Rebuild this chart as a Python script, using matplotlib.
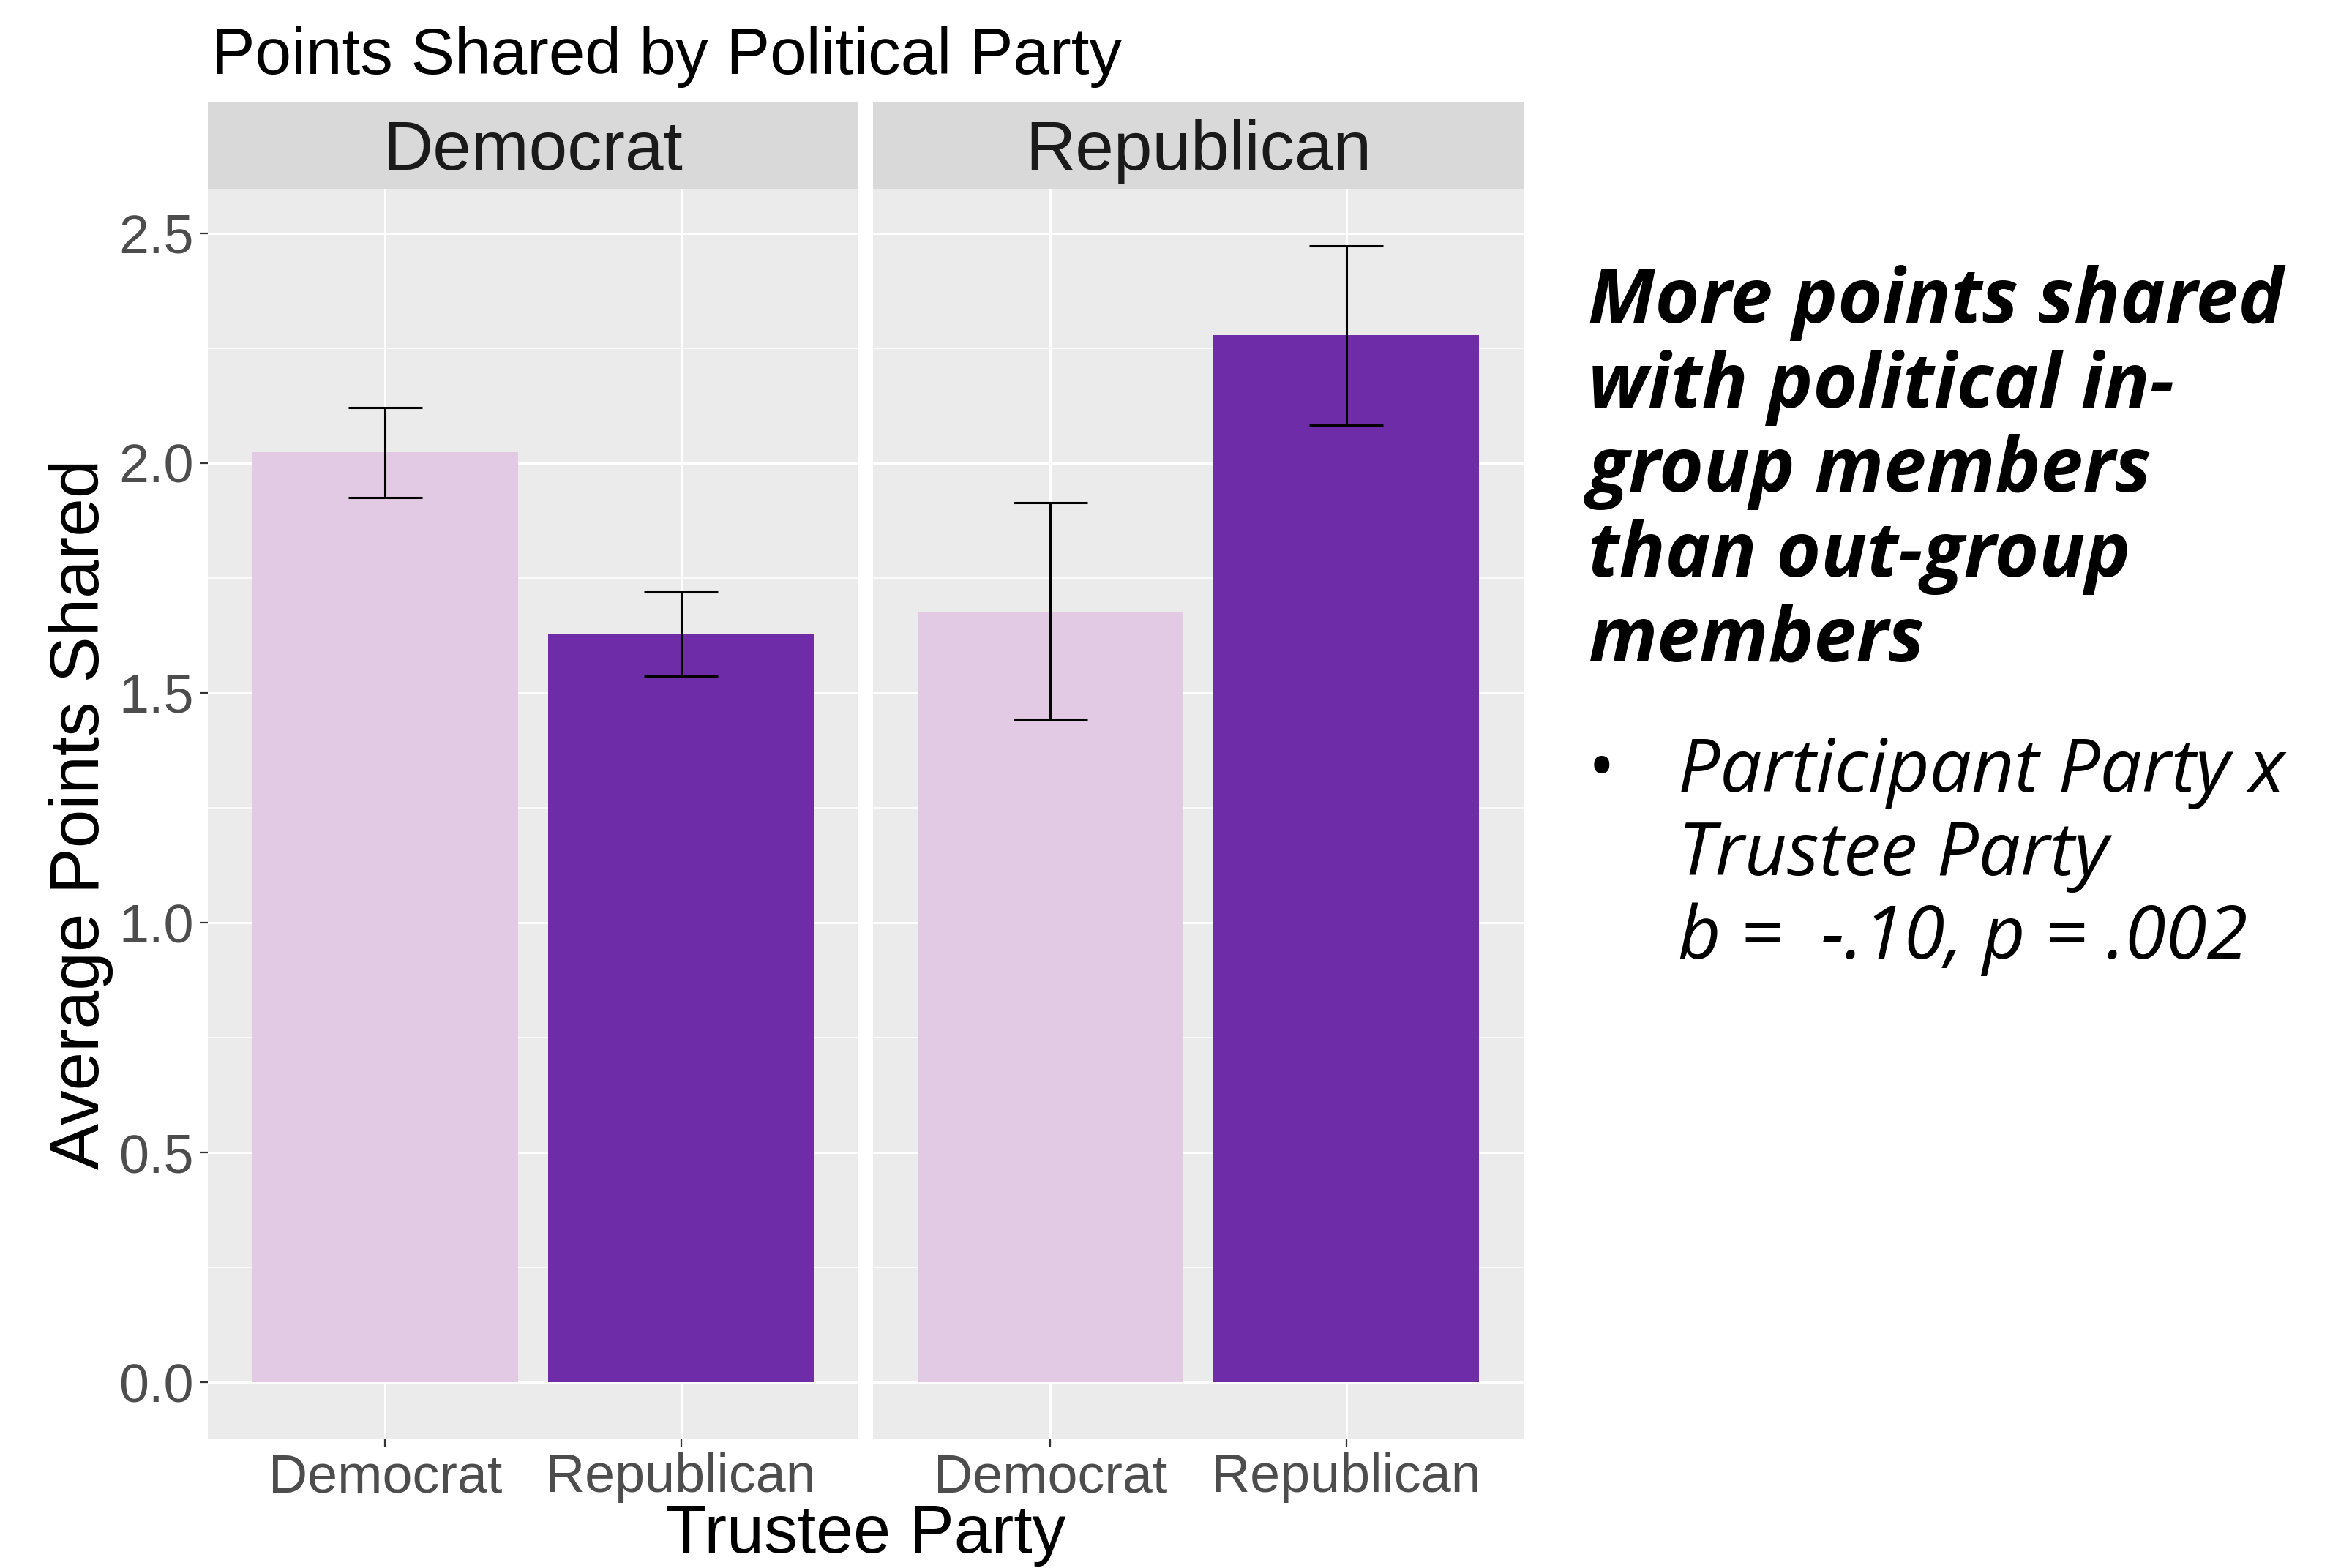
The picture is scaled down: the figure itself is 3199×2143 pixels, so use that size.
import matplotlib
matplotlib.use("Agg")
import matplotlib.pyplot as plt
import numpy as np

# ---------------- data ----------------
participant_party = ["Democrat", "Republican"]          # facet panels
trustee_party = ["Democrat", "Republican"]              # x categories
mean_points = [[2.023, 1.627], [1.677, 2.279]]           # per panel
ci_low = [[1.925, 1.537], [1.442, 2.083]]
ci_high = [[2.120, 1.719], [1.914, 2.473]]
y_ticks = [0.0, 0.5, 1.0, 1.5, 2.0, 2.5]
y_tick_labels = ["0.0", "0.5", "1.0", "1.5", "2.0", "2.5"]
bar_colors = ["#E3CAE4", "#6F2CA8"]

title = "Points Shared by Political Party"
x_label = "Trustee Party"
y_label = "Average Points Shared"
heading_lines = ["More points shared", "with political in-", "group members",
                 "than out-group", "members"]
bullet_lines = ["Participant Party x", "Trustee Party", "b =  -.10, p = .002"]

# ---------------- layout ----------------
W, H = 3199, 2143
DPI = 200
fig = plt.figure(figsize=(W / DPI, H / DPI), dpi=DPI)
fig.patch.set_facecolor("white")

CHART_FONT = ["Liberation Sans", "DejaVu Sans"]
TEXT_FONT = ["Open Sans", "DejaVu Sans"]


def fx(x):
    return x / W


def fy(y):
    return 1 - y / H


panel_top, panel_bot = 258, 1967
strip_top = 139
panel_lefts = [284, 1193]
panel_w = 889

top_val = max(max(r) for r in ci_high)
ylim = (-0.05 * top_val, 1.05 * top_val)
xpos = np.arange(len(trustee_party))

for p, left in enumerate(panel_lefts):
    ax = fig.add_axes([fx(left), fy(panel_bot), panel_w / W, (panel_bot - panel_top) / H])
    ax.set_facecolor("#EBEBEB")
    for s in ax.spines.values():
        s.set_visible(False)
    ax.set_xlim(-0.6, len(trustee_party) - 0.4)
    ax.set_ylim(*ylim)
    ax.set_axisbelow(True)

    ax.set_yticks(y_ticks)
    ax.set_yticks([(a + b) / 2 for a, b in zip(y_ticks[:-1], y_ticks[1:])], minor=True)
    ax.set_xticks(xpos)
    ax.grid(which="major", color="white", linewidth=1.1)
    ax.grid(which="minor", axis="y", color="white", linewidth=0.55)

    ax.bar(xpos, mean_points[p], width=0.9, color=bar_colors, zorder=2)
    lo = np.array(ci_low[p])
    hi = np.array(ci_high[p])
    ax.vlines(xpos, lo, hi, color="black", linewidth=1.1, zorder=3)
    ax.hlines(lo, xpos - 0.125, xpos + 0.125, color="black", linewidth=1.1, zorder=3)
    ax.hlines(hi, xpos - 0.125, xpos + 0.125, color="black", linewidth=1.1, zorder=3)

    ax.set_xticklabels(trustee_party, fontsize=26.5, color="#4D4D4D", family=CHART_FONT)
    ax.tick_params(axis="x", which="major", length=3.6, width=0.8, color="#333333", pad=3.0)
    ax.tick_params(axis="y", which="minor", length=0)
    if p == 0:
        ax.set_yticklabels(y_tick_labels, fontsize=26.5, color="#4D4D4D", family=CHART_FONT)
        ax.tick_params(axis="y", which="major", length=3.8, width=0.8, color="#333333", pad=3.2)
    else:
        ax.tick_params(axis="y", which="major", length=0, labelleft=False)

    # facet strip
    sax = fig.add_axes([fx(left), fy(panel_top), panel_w / W, (panel_top - strip_top) / H])
    sax.set_facecolor("#D9D9D9")
    sax.set_xticks([])
    sax.set_yticks([])
    for s in sax.spines.values():
        s.set_visible(False)
    fig.text(fx(left + panel_w / 2), fy(232), participant_party[p], fontsize=34,
             color="#1A1A1A", ha="center", va="baseline", family=CHART_FONT)

# titles
fig.text(fx(289), fy(101), title, fontsize=32.1, color="black", ha="left",
         va="baseline", family=CHART_FONT)
fig.text(fx((panel_lefts[0] + panel_lefts[1] + panel_w) / 2), fy(2122), x_label,
         fontsize=33, color="black", ha="center", va="baseline", family=CHART_FONT)
fig.text(fx(135), fy((panel_top + panel_bot) / 2), y_label, fontsize=34, color="black",
         rotation=90, rotation_mode="anchor", ha="center", va="baseline", family=CHART_FONT)

# right-hand annotation
for i, line in enumerate(heading_lines):
    fig.text(fx(2170), fy(441 + i * 115.6), line, fontsize=37.5, fontweight="bold",
             fontstyle="italic", color="black", ha="left", va="baseline", family=TEXT_FONT)

fig.text(fx(2170), fy(1082), "\u2022", fontsize=36, color="black", ha="left",
         va="baseline", family=TEXT_FONT)
for i, line in enumerate(bullet_lines):
    fig.text(fx(2293), fy(1082 + i * 114), line, fontsize=36.5, fontstyle="italic",
             color="black", ha="left", va="baseline", family=TEXT_FONT)

fig.savefig("out.png", dpi=DPI, facecolor="white")
